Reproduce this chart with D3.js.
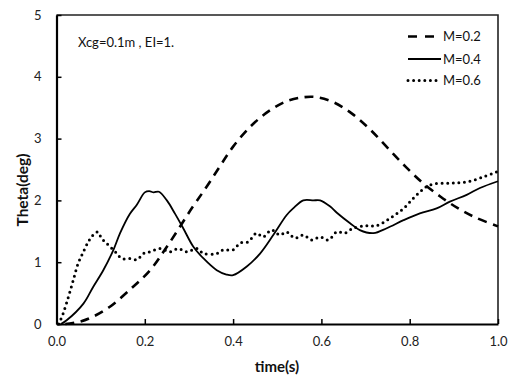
<!DOCTYPE html>
<html>
<head>
<meta charset="utf-8">
<script src="https://cdn.jsdelivr.net/npm/d3@7"></script>
<style>
  html, body { margin: 0; padding: 0; background: #fff; }
  svg { display: block; }
  text { font-family: Lato, "Open Sans", sans-serif; }
</style>
</head>
<body>
<svg id="chart" width="513" height="376"></svg>
<script>
// Pitch response Theta(deg) vs time(s) for three mass ratios
const xTicks = [0.0, 0.2, 0.4, 0.6, 0.8, 1.0];
const yTicks = [0, 1, 2, 3, 4, 5];

const tM02 = [0.02, 0.054, 0.083, 0.121, 0.173, 0.212, 0.25, 0.309, 0.34, 0.37, 0.4, 0.44, 0.48, 0.52, 0.56, 0.59, 0.63, 0.67, 0.71, 0.75, 0.79, 0.83, 0.87, 0.91, 0.95, 1.0];
const vM02 = [0.0, 0.04, 0.12, 0.28, 0.6, 0.87, 1.25, 1.9, 2.22, 2.55, 2.87, 3.2, 3.44, 3.6, 3.67, 3.67, 3.58, 3.4, 3.15, 2.85, 2.55, 2.28, 2.06, 1.87, 1.72, 1.58];

const tM04 = [0.01, 0.023, 0.061, 0.083, 0.106, 0.129, 0.144, 0.166, 0.182, 0.2, 0.21, 0.22, 0.232, 0.25, 0.268, 0.287, 0.31, 0.333, 0.363, 0.385, 0.4, 0.431, 0.461, 0.491, 0.521, 0.536, 0.559, 0.582, 0.597, 0.62, 0.635, 0.665, 0.687, 0.718, 0.748, 0.786, 0.823, 0.861, 0.891, 0.929, 0.959, 1.0];
const vM04 = [0.0, 0.06, 0.33, 0.6, 0.87, 1.2, 1.47, 1.78, 1.93, 2.13, 2.15, 2.13, 2.14, 2.0, 1.79, 1.55, 1.25, 1.06, 0.87, 0.8, 0.79, 0.93, 1.14, 1.44, 1.76, 1.87, 2.0, 2.0, 2.0, 1.9, 1.8, 1.63, 1.52, 1.47, 1.55, 1.68, 1.79, 1.87, 1.98, 2.09, 2.2, 2.31];

const tM06 = [0.005, 0.015, 0.027, 0.038, 0.049, 0.061, 0.072, 0.083, 0.093, 0.102, 0.117, 0.133, 0.148, 0.166, 0.182, 0.197, 0.212, 0.234, 0.257, 0.276, 0.295, 0.318, 0.333, 0.363, 0.378, 0.4, 0.416, 0.434, 0.453, 0.468, 0.487, 0.506, 0.521, 0.54, 0.559, 0.578, 0.597, 0.616, 0.635, 0.653, 0.672, 0.703, 0.725, 0.755, 0.786, 0.816, 0.846, 0.891, 0.929, 0.967, 1.0];
const vM06 = [0.0, 0.17, 0.44, 0.71, 0.98, 1.17, 1.33, 1.44, 1.49, 1.39, 1.28, 1.17, 1.06, 1.06, 1.04, 1.14, 1.17, 1.22, 1.17, 1.22, 1.17, 1.22, 1.14, 1.14, 1.2, 1.2, 1.31, 1.33, 1.47, 1.41, 1.52, 1.44, 1.49, 1.39, 1.44, 1.36, 1.41, 1.36, 1.49, 1.47, 1.55, 1.59, 1.59, 1.71, 1.87, 2.09, 2.25, 2.28, 2.3, 2.38, 2.47];

const seriesNames = ["M=0.2", "M=0.4", "M=0.6"];
const annotation = "Xcg=0.1m , EI=1.";

const svg = d3.select("#chart");
const plotLeft = 56.5, plotRight = 498, plotTop = 15, plotBottom = 324;

const x = d3.scaleLinear().domain([0, 1]).range([plotLeft, plotRight]);
const y = d3.scaleLinear().domain([0, 5]).range([plotBottom, plotTop]);

// Frame: top and right edges
svg.append("path")
  .attr("d", `M${plotLeft},${plotTop}H${plotRight}V${plotBottom}`)
  .attr("fill", "none").attr("stroke", "#222").attr("stroke-width", 1.6);

// Axes with inward ticks
const gx = svg.append("g").attr("transform", `translate(0,${plotBottom})`)
  .call(d3.axisBottom(x).tickValues(xTicks).tickFormat(d3.format(".1f"))
    .tickSizeInner(-5).tickSizeOuter(0).tickPadding(13));
const gy = svg.append("g").attr("transform", `translate(${plotLeft},0)`)
  .call(d3.axisLeft(y).tickValues(yTicks).tickFormat(d3.format("d"))
    .tickSizeInner(-5).tickSizeOuter(0).tickPadding(15));
[gx, gy].forEach(g => {
  g.select(".domain").attr("stroke", "#000").attr("stroke-width", 2.2);
  g.selectAll(".tick line").attr("stroke", "#000").attr("stroke-width", 1.5);
  g.selectAll(".tick text").attr("fill", "#222").attr("font-size", 13)
    .attr("font-family", "Lato, 'Open Sans', sans-serif");
});

const line = d3.line().x(d => x(d[0])).y(d => y(d[1])).curve(d3.curveCatmullRom.alpha(0.5));
const zip = (a, b) => a.map((t, i) => [t, b[i]]);

const styles = [
  { w: 2.6, dash: "9,6.5", cap: "butt" },
  { w: 1.8, dash: null, cap: "butt" },
  { w: 3, dash: "0,5.6", cap: "round" }
];
const data = [zip(tM02, vM02), zip(tM04, vM04), zip(tM06, vM06)];

data.forEach((d, i) => {
  svg.append("path").datum(d)
    .attr("d", line)
    .attr("fill", "none")
    .attr("stroke", "#000")
    .attr("stroke-width", styles[i].w)
    .attr("stroke-linecap", styles[i].cap)
    .attr("stroke-dasharray", styles[i].dash);
});

// Legend
const legY = [36.5, 59, 80.5];
seriesNames.forEach((name, i) => {
  svg.append("line")
    .attr("x1", 408).attr("x2", 441).attr("y1", legY[i]).attr("y2", legY[i])
    .attr("stroke", "#000")
    .attr("stroke-width", styles[i].w)
    .attr("stroke-linecap", styles[i].cap)
    .attr("stroke-dasharray", i === 0 ? "9,8" : styles[i].dash);
  svg.append("text").attr("x", 443).attr("y", legY[i] + 4.5)
    .attr("font-size", 13).attr("fill", "#111").text(name);
});

// Annotation
svg.append("text").attr("x", 78).attr("y", 47)
  .attr("font-size", 13).attr("fill", "#111").text(annotation);

// Axis titles
svg.append("text").attr("x", 277).attr("y", 372).attr("text-anchor", "middle")
  .attr("font-size", 15).attr("font-weight", "bold").attr("fill", "#111").text("time(s)");
svg.append("text").attr("transform", "translate(28,190) rotate(-90)")
  .attr("text-anchor", "middle")
  .attr("font-size", 15.5).attr("font-weight", "bold").attr("fill", "#111").text("Theta(deg)");
</script>
</body>
</html>
